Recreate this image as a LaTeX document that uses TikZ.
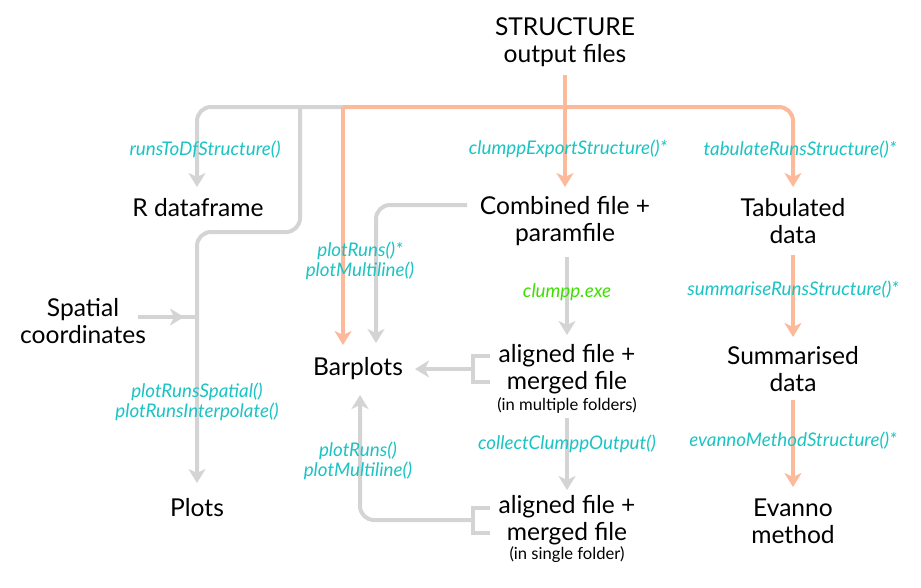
\documentclass[tikz,border=0pt]{standalone}
\usepackage{fontspec}
\setmainfont{Lato}
\usetikzlibrary{arrows.meta}
\definecolor{lgray}{HTML}{D4D4D4}
\definecolor{salmon}{HTML}{FDBA9A}
\definecolor{fteal}{HTML}{1BC3C3}
\definecolor{fgreen}{HTML}{3DDF00}
\begin{document}
\begin{tikzpicture}[x=1pt,y=-1pt,
  main/.style={font=\fontsize{24.6}{27}\selectfont, align=center, inner sep=0pt},
  small/.style={font=\fontsize{16.6}{18}\selectfont, align=center, inner sep=0pt},
  fn/.style={font=\fontsize{18.8}{20.5}\selectfont\itshape, text=fteal, align=center, inner sep=0pt},
  exe/.style={fn, text=fgreen},
  conn/.style={line width=4pt, rounded corners=14pt},
  gline/.style={conn, draw=lgray},
  oline/.style={conn, draw=salmon},
  tip/.style={-{Stealth[length=14pt,width=17pt,inset=4pt]}},
]
\useasboundingbox (0,0) rectangle (921,587);

% ---------- nodes ----------
\node[main] (struct) at (565,42) {STRUCTURE\\output files};
\node[main] (rdf) at (198,208) {R dataframe};
\node[main] (comb) at (565,221) {Combined file +\\paramfile};
\node[main] (tab) at (793,221) {Tabulated\\data};
\node[main] (spat) at (83,321) {Spatial\\coordinates};
\node[main] (bar) at (358,369) {Barplots};
\node[main] (al1) at (567,369) {aligned file +\\merged file};
\node[small] (al1s) at (567,405) {(in multiple folders)};
\node[main] (sum) at (793,369) {Summarised\\data};
\node[main] (plots) at (197,508) {Plots};
\node[main] (al2) at (567,520) {aligned file +\\merged file};
\node[small] (al2s) at (567,555) {(in single folder)};
\node[main] (evan) at (793,521) {Evanno\\method};

% ---------- coordinates ----------
\coordinate (top) at (565,75);
\coordinate (jg) at (343,107);
\coordinate (jr) at (300,107);
\coordinate (jsp) at (197,317);
\coordinate (b1) at (473,369);
\coordinate (b2) at (473,520);

% ---------- gray connectors ----------
\draw[gline, tip] (jg) -- (197,107) -- (197,187);
\draw[gline, tip] (jr) -- (300,232) -- (197,232) -- (197,483);
\draw[gline] (138,317) -- (jsp);
\draw[gline, tip] (138,317) -- (184,317);
\draw[gline, tip] (467,205) -- (376,205) -- (376,343);
\draw[gline, tip] (567,257) -- (567,335);
\draw[gline, rounded corners=0pt] (490,356) -- (473,356) -- (473,382) -- (490,382);
\draw[gline, tip] (b1) -- (415,369);
\draw[gline, tip] (567,418) -- (567,490);
\draw[gline, rounded corners=0pt] (490,508) -- (473,508) -- (473,533) -- (490,533);
\draw[gline, tip] (b2) -- (360,520) -- (360,395);

% ---------- orange connectors ----------
\draw[oline, tip] (top) -- (565,187);
\draw[oline, tip] (jg) -- (793,107) -- (793,187);
\draw[oline, tip] (jg) -- (343,345);
\draw[oline, tip] (793,255) -- (793,337);
\draw[oline, tip] (793,400) -- (793,487);

% ---------- labels ----------
\node[fn] (l1) at (205,150) {runsToDfStructure()};
\node[fn] (l2) at (568,149) {clumppExportStructure()*};
\node[fn] (l3) at (800,150) {tabulateRunsStructure()*};
\node[fn] (l4) at (360,261) {plotRuns()*\\plotMultiline()};
\node[exe] (l5) at (567,292) {clumpp.exe};
\node[fn] (l6) at (793,290) {summariseRunsStructure()*};
\node[fn] (l7) at (197,402) {plotRunsSpatial()\\plotRunsInterpolate()};
\node[fn] (l8) at (567,444) {collectClumppOutput()};
\node[fn] (l9) at (793,441) {evannoMethodStructure()*};
\node[fn] (l10) at (358,461) {plotRuns()\\plotMultiline()};
\end{tikzpicture}
\end{document}
